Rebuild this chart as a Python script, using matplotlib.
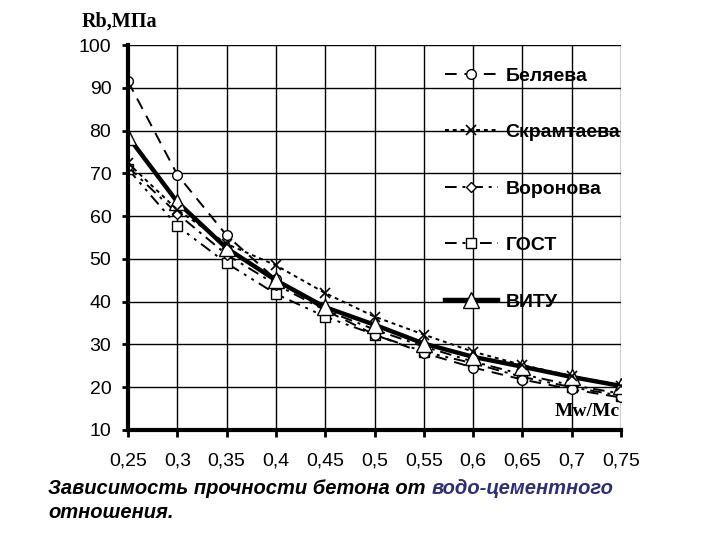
import matplotlib
matplotlib.use("Agg")
import matplotlib.pyplot as plt
import numpy as np

# ---- data ----
wc = [0.25, 0.30, 0.35, 0.40, 0.45, 0.50, 0.55, 0.60, 0.65, 0.70, 0.75]
x_labels = ["0,25", "0,3", "0,35", "0,4", "0,45", "0,5", "0,55", "0,6", "0,65", "0,7", "0,75"]
y_ticks = [10, 20, 30, 40, 50, 60, 70, 80, 90, 100]

belyaeva   = [91.5, 69.7, 55.5, 45.2, 38.0, 32.3, 28.0, 24.6, 21.8, 19.5, 17.6]
skramtaeva = [72.4, 61.5, 53.5, 48.5, 42.0, 36.5, 32.3, 28.3, 25.2, 22.6, 20.4]
voronova   = [71.5, 60.6, 51.0, 44.0, 38.0, 33.5, 29.5, 26.0, 23.0, 20.5, 18.5]
gost       = [71.0, 57.7, 49.0, 41.8, 36.5, 32.3, 28.3, 25.6, 22.4, 20.0, 18.0]
vitu       = [78.6, 63.3, 52.5, 45.0, 38.7, 34.6, 30.2, 27.1, 24.8, 22.4, 20.3]

names = ["Беляева", "Скрамтаева", "Воронова", "ГОСТ", "ВИТУ"]

plt.rcParams['font.family'] = ['Liberation Sans', 'DejaVu Sans']

fig = plt.figure(figsize=(7.2, 5.4), dpi=100)
ax = fig.add_axes([128/720, 1-430/540, (621-128)/720, (430-45)/540])

mfc = 'white'
ax.plot(wc, gost, color='black', lw=1.4, dashes=(6, 3, 1.5, 3, 1.5, 3),
        marker='s', ms=7, mfc=mfc, mec='black', mew=1.0, label=names[3], zorder=3)
ax.plot(wc, voronova, color='black', lw=1.4, dashes=(6, 3, 1.5, 3),
        marker='D', ms=5, mfc=mfc, mec='black', mew=1.0, label=names[2], zorder=3)
ax.plot(wc, belyaeva, color='black', lw=1.4, dashes=(6, 4),
        marker='o', ms=7, mfc=mfc, mec='black', mew=1.0, label=names[0], zorder=3)
ax.plot(wc, vitu, color='black', lw=3.2, linestyle='-',
        marker='^', ms=11, mfc=mfc, mec='black', mew=1.0, label=names[4], zorder=4)
ax.plot(wc, skramtaeva, color='black', lw=1.4, dashes=(2, 2),
        marker='x', ms=7, mec='black', mew=1.2, label=names[1], zorder=5)

ax.set_xlim(0.25, 0.75)
ax.set_ylim(10, 100)
ax.set_xticks(wc)
ax.set_xticklabels(x_labels)
ax.set_yticks(y_ticks)
ax.set_yticklabels([str(v) for v in y_ticks])
ax.grid(True, color='black', lw=1.0, zorder=0)
ax.set_axisbelow(True)

for s in ['top', 'right']:
    ax.spines[s].set_visible(False)
for s in ['left', 'bottom']:
    ax.spines[s].set_linewidth(3)
    ax.spines[s].set_zorder(6)

ax.tick_params(axis='x', direction='out', length=5, width=2, pad=11, labelsize=14)
ax.tick_params(axis='y', direction='out', length=4, width=2, pad=8, labelsize=14)

handles, labels = ax.get_legend_handles_labels()
order = [labels.index(n) for n in names]
leg = ax.legend([handles[i] for i in order], [labels[i] for i in order],
                loc='upper left', bbox_to_anchor=(445/720, 1-67/540),
                bbox_transform=fig.transFigure, frameon=False,
                handlelength=2.7, handletextpad=0.4, labelspacing=2.0,
                borderpad=0, borderaxespad=0,
                prop={'size': 14, 'weight': 'bold'})

fig.text(82/720, 1-22/540, "Rb,МПа", family='Liberation Serif', weight='bold',
         fontsize=14.5, ha='left', va='center')
fig.text(620/720, 1-412/540, "Mw/Mc", family='Liberation Serif', weight='bold',
         fontsize=14, ha='right', va='center', zorder=10)

t1 = fig.text(48/720, 1-488/540, "Зависимость прочности бетона от ",
              fontsize=14.5, weight='bold', style='italic', color='black',
              ha='left', va='center')
fig.canvas.draw()
bb = t1.get_window_extent()
fig.text(bb.x1/720, 1-488/540, "водо-цементного",
         fontsize=14.5, weight='bold', style='italic', color='#2e2e7a',
         ha='left', va='center')
fig.text(48/720, 1-512/540, "отношения.",
         fontsize=14.5, weight='bold', style='italic', color='black',
         ha='left', va='center')

fig.savefig("out.png", dpi=100)
